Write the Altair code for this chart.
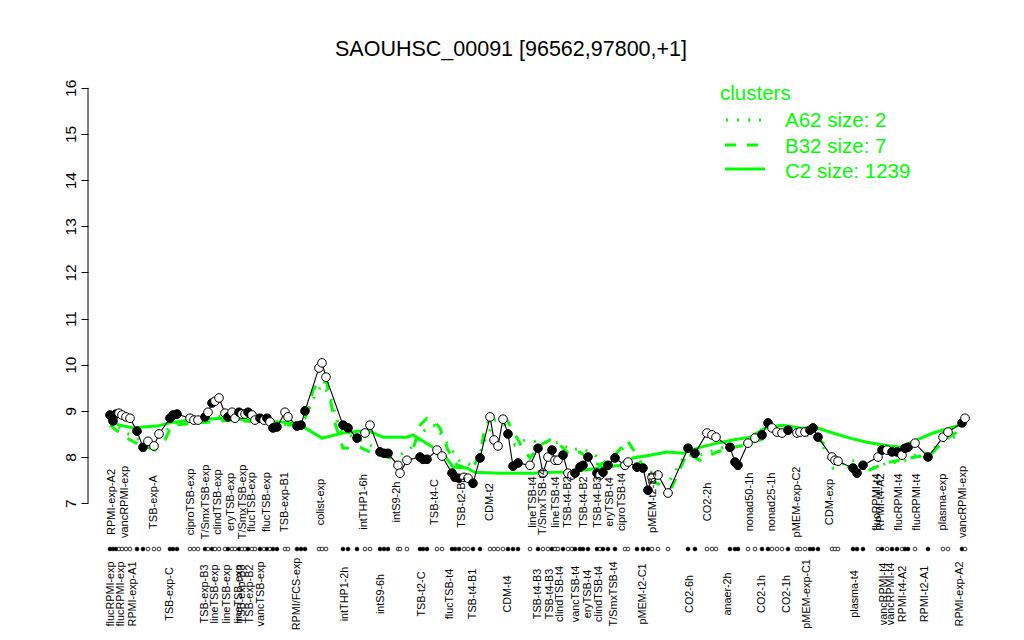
import altair as alt
import pandas as pd

# ---- profile points (condition position, expression, filled marker) ----
pos = [0, 3, 6, 9, 12, 16, 20, 27, 33, 38, 44, 49, 60, 63, 67, 80, 84, 88, 95, 98,
       102, 105, 109, 115, 118, 122, 125, 129, 132, 135, 138, 142, 145, 150, 154, 157, 160, 163, 167, 175,
       178, 187, 191, 195, 209, 212, 216, 233, 238, 247, 255, 260, 270, 274, 278, 288, 290, 297, 310, 313,
       317, 327, 332, 342, 345, 349, 354, 358, 363, 370, 380, 384, 388, 393, 398, 403, 408, 420, 428, 433,
       438, 442, 445, 448, 453, 458, 462, 465, 470, 473, 478, 487, 490, 493, 498, 505, 515, 518, 527, 533,
       538, 542, 548, 558, 578, 585, 597, 602, 606, 620, 625, 628, 638, 645, 652, 658, 662, 667, 672, 678,
       687, 690, 695, 700, 703, 708, 722, 725, 728, 743, 747, 753, 768, 772, 777, 782, 787, 792, 795, 798,
       805, 818, 833, 838, 852, 855]
expr = [8.91, 8.78, 8.93, 8.95, 8.91, 8.87, 8.84, 8.56, 8.21, 8.34, 8.24, 8.50, 8.84, 8.91, 8.93, 8.84, 8.80, 8.80, 8.87, 8.97,
        9.17, 9.21, 9.28, 8.95, 8.87, 8.97, 8.84, 8.97, 8.93, 8.93, 8.97, 8.91, 8.80, 8.84, 8.80, 8.84, 8.76, 8.63, 8.65, 8.97,
        8.87, 8.67, 8.69, 9.00, 9.93, 10.04, 9.73, 8.69, 8.63, 8.41, 8.52, 8.69, 8.11, 8.08, 8.08, 7.82, 7.65, 7.93, 8.00, 7.95,
        7.95, 8.15, 8.02, 7.65, 7.56, 7.54, 7.56, 7.54, 7.43, 7.98, 8.87, 8.37, 8.24, 8.82, 8.50, 7.80, 7.87, 7.82, 8.19, 7.65,
        8.00, 8.15, 7.93, 7.93, 8.04, 7.65, 7.61, 7.65, 7.78, 7.82, 8.00, 7.65, 7.61, 7.67, 7.82, 7.98, 7.82, 7.89, 7.78, 7.76,
        7.28, 7.56, 7.61, 7.22, 8.19, 8.08, 8.52, 8.48, 8.43, 8.21, 7.89, 7.82, 8.30, 8.41, 8.48, 8.74, 8.63, 8.54, 8.52, 8.58,
        8.52, 8.54, 8.54, 8.58, 8.63, 8.43, 8.00, 7.93, 7.91, 7.76, 7.65, 7.82, 8.00, 8.15, 8.15, 8.11, 8.11, 8.04, 8.19, 8.21,
        8.30, 8.00, 8.43, 8.54, 8.74, 8.84]
filled = [1, 1, 1, 0, 0, 0, 0, 1, 1, 0, 0, 0, 1, 1, 1, 0, 0, 0, 1, 0,
          1, 0, 0, 0, 1, 0, 0, 1, 0, 0, 1, 0, 0, 1, 0, 1, 0, 1, 1, 0,
          0, 1, 1, 1, 0, 0, 0, 1, 1, 1, 0, 0, 1, 1, 1, 0, 0, 0, 1, 1,
          1, 0, 0, 1, 1, 1, 0, 0, 1, 1, 0, 0, 0, 0, 1, 1, 1, 0, 1, 0,
          0, 1, 0, 0, 1, 0, 0, 1, 1, 1, 1, 1, 0, 1, 1, 1, 0, 0, 1, 1,
          1, 0, 0, 0, 1, 1, 0, 0, 0, 1, 1, 1, 0, 0, 1, 1, 0, 0, 0, 1,
          0, 0, 0, 1, 1, 1, 0, 0, 0, 1, 1, 1, 0, 1, 0, 1, 1, 0, 1, 1,
          0, 1, 0, 0, 1, 0]

# ---- cluster profiles ----
c2_pos = [0, 10, 23, 33, 47, 60, 80, 113, 147, 180, 195, 212, 233, 257, 273, 297, 303, 323, 333, 343,
          357, 365, 390, 423, 443, 457, 490, 510, 523, 540, 557, 573, 590, 607, 623, 640, 657, 673, 690, 707,
          723, 740, 757, 773, 790, 807, 823, 850, 855]
c2_val = [8.76, 8.69, 8.63, 8.65, 8.67, 8.74, 8.80, 8.84, 8.80, 8.74, 8.63, 8.41, 8.52, 8.58, 8.43, 8.43, 8.48, 8.21, 8.08, 7.78,
          7.76, 7.67, 7.65, 7.65, 7.67, 7.67, 7.76, 7.82, 7.98, 8.04, 8.11, 8.08, 8.21, 8.30, 8.37, 8.43, 8.65, 8.69, 8.63, 8.63,
          8.52, 8.41, 8.32, 8.26, 8.21, 8.37, 8.52, 8.69, 8.74]
b32_pos = [0, 15, 30, 45, 55, 62, 90, 120, 150, 180, 195, 203, 210, 217, 225, 233, 250, 260, 272, 287,
           300, 310, 317, 323, 330, 338, 347, 357, 363, 370, 375, 382, 390, 397, 403, 412, 420, 430, 440, 450,
           460, 470, 480, 490, 505, 517, 527, 540, 557, 562, 568, 577, 590, 607, 620, 635, 650, 670, 690, 705,
           715, 725, 745, 760, 775, 790, 805, 820, 835, 853]
b32_val = [8.69, 8.43, 8.26, 8.15, 8.37, 8.69, 8.74, 8.80, 8.76, 8.69, 8.80, 9.45, 9.67, 9.60, 8.74, 8.19, 8.21, 8.11, 8.04, 7.93,
           7.93, 8.69, 8.84, 8.80, 8.63, 8.15, 7.82, 7.76, 7.78, 8.04, 8.65, 8.91, 8.91, 8.80, 8.58, 8.21, 7.98, 8.26, 8.37, 8.26,
           8.04, 8.11, 7.93, 7.82, 8.04, 8.37, 8.04, 7.50, 7.33, 7.35, 7.65, 8.08, 7.93, 8.11, 8.19, 8.26, 8.37, 8.54, 8.54, 8.48,
           8.26, 7.93, 7.72, 7.72, 7.87, 7.93, 8.00, 8.04, 8.37, 8.63]
a62_pos = [0, 15, 30, 50, 65, 100, 140, 180, 195, 205, 212, 220, 230, 250, 270, 290, 305, 315, 325, 335,
           350, 365, 375, 385, 395, 405, 415, 430, 440, 450, 460, 472, 485, 495, 510, 520, 535, 550, 560, 575,
           590, 610, 640, 660, 690, 710, 723, 742, 763, 780, 790, 805, 820, 835, 852]
a62_val = [8.80, 8.54, 8.37, 8.45, 8.74, 8.91, 8.80, 8.69, 8.84, 9.34, 9.56, 9.34, 8.58, 8.37, 8.15, 8.04, 8.26, 8.58, 8.69, 8.37,
           7.89, 7.82, 8.37, 8.80, 8.69, 8.26, 8.37, 8.32, 8.30, 8.32, 8.15, 8.19, 8.04, 7.89, 8.15, 8.26, 7.72, 7.61, 7.50, 8.04,
           8.04, 8.19, 8.30, 8.48, 8.52, 8.37, 7.76, 7.93, 7.76, 7.89, 7.87, 8.04, 8.11, 8.37, 8.48]

# ---- condition labels ----
top_pos = [2, 15, 44, 81, 96, 108, 121, 133, 142, 157, 175, 211, 254, 287, 325, 352, 380, 423, 433, 446,
           458, 474, 488, 500, 512, 543, 598, 640, 662, 687, 720, 767, 771, 789, 807, 833, 853]
top_lab = ["RPMI-exp-A2", "vancRPMI-exp", "TSB-exp-A", "ciproTSB-exp", "T/SmxTSB-exp", "clindTSB-exp",
           "eryTSB-exp", "T/SmxTSB-exp", "flucTSB-exp", "flucTSB-exp", "TSB-exp-B1", "colist-exp",
           "intTHP1-6h", "intS9-2h", "TSB-t4-C", "TSB-t2-B1", "CDM-t2", "lineTSB-t4", "T/SmxTSB-t4",
           "lineTSB-t4", "TSB-t4-B2", "TSB-t4-B2", "TSB-t4-B3", "eryTSB-t4", "ciproTSB-t4", "pMEM-t2-B1",
           "CO2-2h", "nonad50-1h", "nonad25-1h", "pMEM-exp-C2", "CDM-exp", "flucRPMI-t4", "RPMI-t4-A2",
           "flucRPMI-t4", "flucRPMI-t4", "plasma-exp", "vancRPMI-exp"]
bot_pos = [1, 11, 23, 60, 95, 105, 117, 129, 132, 140, 151, 187, 235, 271, 312, 340, 363, 398, 428, 440,
           450, 466, 478, 489, 504, 533, 580, 618, 652, 677, 697, 745, 774, 781, 793, 815, 850]
bot_lab = ["flucRPMI-exp", "flucRPMI-exp", "RPMI-exp-A1", "TSB-exp-C", "TSB-exp-B3", "lineTSB-exp",
           "lineTSB-exp", "lineTSB-exp", "TSB-exp-B3", "TSB-exp-B2", "vancTSB-exp", "RPMI/FCS-exp",
           "intTHP1-2h", "intS9-6h", "TSB-t2-C", "flucTSB-t4", "TSB-t4-B1", "CDM-t4", "TSB-t4-B3",
           "TSB-t4-B3", "clindTSB-t4", "vancTSB-t4", "eryTSB-t4", "clindTSB-t4", "T/SmxTSB-t4",
           "pMEM-t2-C1", "CO2-6h", "anaer-2h", "CO2-1h", "CO2-1h", "pMEM-exp-C1", "plasma-t4",
           "vancRPMI-t4", "vancRPMI-t4", "RPMI-t4-A2", "RPMI-t2-A1", "RPMI-exp-A2"]

legend_labels = ["A62 size: 2", "B32 size: 7", "C2 size: 1239"]
title_text = "SAOUHSC_00091 [96562,97800,+1]"

# ---- layout / style ----
W, H = 899, 443
X_DOM = [-22, 877]
Y_DOM = [6.7, 16.3]
FONT = "Liberation Sans"
GREEN = "#00FF00"

pts = pd.DataFrame({"pos": pos, "v": expr, "filled": filled})
c2 = pd.DataFrame({"pos": c2_pos, "v": c2_val})
b32 = pd.DataFrame({"pos": b32_pos, "v": b32_val})
a62 = pd.DataFrame({"pos": a62_pos, "v": a62_val})
top = pd.DataFrame({"pos": top_pos, "label": top_lab})
bot = pd.DataFrame({"pos": bot_pos, "label": bot_lab})

xenc = alt.X("pos:Q", scale=alt.Scale(domain=X_DOM), axis=None)
yaxis = alt.Axis(values=list(range(7, 17)), domain=False, grid=False, ticks=True,
                 tickSize=7, tickColor="black", tickWidth=1, labelAngle=270,
                 labelAlign="center", labelBaseline="bottom", labelPadding=3,
                 labelFontSize=15.5, labelFont=FONT, labelColor="black", title=None)


def yenc(field="v"):
    return alt.Y(f"{field}:Q", scale=alt.Scale(domain=Y_DOM), axis=yaxis)


axis_line = alt.Chart(pd.DataFrame({"a": [7], "b": [16]})).mark_rule(
    color="black", strokeWidth=1).encode(x=alt.value(0), y=yenc("a"), y2="b:Q")

line_c2 = alt.Chart(c2).mark_line(color=GREEN, strokeWidth=3).encode(x=xenc, y=yenc())
line_b32 = alt.Chart(b32).mark_line(color=GREEN, strokeWidth=3, strokeDash=[11, 11]).encode(x=xenc, y=yenc())
line_a62 = alt.Chart(a62).mark_line(color=GREEN, strokeWidth=3, strokeDash=[2, 9]).encode(x=xenc, y=yenc())

prof_line = alt.Chart(pts).mark_line(color="black", strokeWidth=1.1).encode(x=xenc, y=yenc())
fill_enc = alt.Fill("filled:N", scale=alt.Scale(domain=[0, 1], range=["white", "black"]), legend=None)
prof_pts = alt.Chart(pts).mark_point(shape="circle", filled=True, size=75, stroke="black",
                                     strokeWidth=1, opacity=1).encode(x=xenc, y=yenc(), fill=fill_enc)
dot_row = alt.Chart(pts).mark_point(shape="circle", filled=True, size=14, stroke="black",
                                    strokeWidth=0.8, opacity=1).encode(x=xenc, y=alt.value(475), fill=fill_enc)

top_text = alt.Chart(top).mark_text(angle=270, align="center", baseline="middle", fontSize=11,
                                    font=FONT, color="black").encode(x=xenc, y=alt.value(428), text="label:N")
bot_text = alt.Chart(bot).mark_text(angle=270, align="center", baseline="middle", fontSize=10.8,
                                    font=FONT, color="black").encode(x=xenc, y=alt.value(520), text="label:N")

one = pd.DataFrame({"k": [0]})
leg_title = alt.Chart(one).mark_text(align="left", baseline="alphabetic", fontSize=20.5, font=FONT,
                                     color=GREEN).encode(x=alt.value(632), y=alt.value(25.5),
                                                         text=alt.value("clusters"))
leg_txt = []
for i, lab in enumerate(legend_labels):
    leg_txt.append(alt.Chart(one).mark_text(align="left", baseline="alphabetic", fontSize=20.5, font=FONT,
                                            color=GREEN).encode(x=alt.value(697), y=alt.value(53 + 25.5 * i),
                                                                text=alt.value(lab)))
leg_a = alt.Chart(one).mark_rule(color=GREEN, strokeWidth=3, strokeDash=[2, 9]).encode(
    x=alt.value(638), x2=alt.value(674), y=alt.value(46))
leg_b = alt.Chart(one).mark_rule(color=GREEN, strokeWidth=3, strokeDash=[11, 11]).encode(
    x=alt.value(637), x2=alt.value(672), y=alt.value(71))
leg_c = alt.Chart(one).mark_rule(color=GREEN, strokeWidth=3).encode(
    x=alt.value(637), x2=alt.value(677), y=alt.value(95))

title = alt.Chart(one).mark_text(align="center", baseline="alphabetic", fontSize=21.5, font=FONT,
                                 color="black").encode(x=alt.value(423), y=alt.value(-18),
                                                       text=alt.value(title_text))

chart = alt.layer(
    axis_line, line_c2, line_b32, line_a62, prof_line, prof_pts, dot_row,
    top_text, bot_text, leg_title, *leg_txt, leg_a, leg_b, leg_c, title
).properties(
    width=W, height=H,
    autosize=alt.AutoSizeParams(type="none"),
    padding={"left": 80, "top": 66, "right": 21, "bottom": 115},
).configure_view(stroke=None)

chart.save("out.html", embed_options={"renderer": "svg", "actions": False})
